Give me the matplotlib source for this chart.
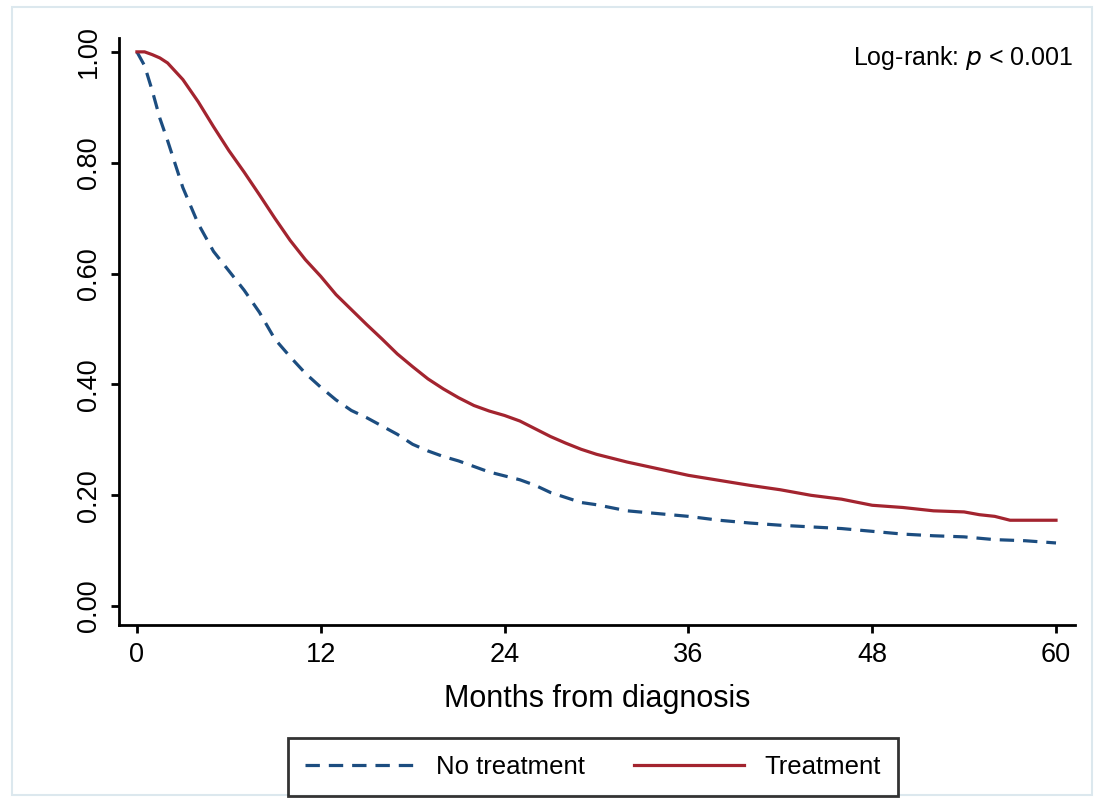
import matplotlib
matplotlib.use("Agg")
import matplotlib.pyplot as plt
from matplotlib.patches import Rectangle

plt.rcParams['font.family'] = ['Liberation Sans', 'DejaVu Sans']

# Treatment (solid red)
t_treat = [0, 0.5, 1, 1.5, 2, 3, 4, 5, 6, 7, 8, 9, 10, 11, 12, 13, 14, 15, 16, 17, 18,
           19, 20, 21, 22, 23, 24, 25, 26, 27, 28, 29, 30, 32, 34, 36, 38, 40, 42, 44,
           46, 48, 50, 52, 54, 55, 56, 57, 58, 60]
s_treat = [1.00, 1.00, 0.995, 0.989, 0.98, 0.95, 0.91, 0.865, 0.822, 0.783, 0.742, 0.70,
           0.66, 0.625, 0.595, 0.562, 0.535, 0.508, 0.482, 0.455, 0.432, 0.41, 0.392,
           0.376, 0.362, 0.352, 0.344, 0.334, 0.32, 0.306, 0.294, 0.283, 0.274, 0.26,
           0.248, 0.236, 0.227, 0.218, 0.21, 0.20, 0.193, 0.182, 0.178, 0.172, 0.17,
           0.165, 0.162, 0.155, 0.155, 0.155]

# No treatment (dashed blue)
t_none = [0, 0.5, 1, 1.5, 2, 3, 4, 5, 6, 7, 8, 9, 10, 11, 12, 13, 14, 15, 16, 17, 18,
          19, 20, 21, 22, 23, 24, 25, 26, 27, 28, 29, 30, 32, 34, 36, 38, 40, 42, 44,
          46, 48, 50, 52, 54, 56, 58, 60]
s_none = [1.00, 0.975, 0.93, 0.88, 0.84, 0.755, 0.69, 0.64, 0.605, 0.57, 0.53, 0.482,
          0.45, 0.42, 0.395, 0.372, 0.353, 0.34, 0.325, 0.31, 0.292, 0.28, 0.27, 0.262,
          0.252, 0.242, 0.235, 0.228, 0.218, 0.205, 0.196, 0.187, 0.183, 0.172, 0.167,
          0.162, 0.155, 0.15, 0.146, 0.143, 0.14, 0.135, 0.13, 0.127, 0.125, 0.12, 0.118,
          0.114]

x_ticks = [0, 12, 24, 36, 48, 60]
y_ticks = [0.0, 0.2, 0.4, 0.6, 0.8, 1.0]
y_ticklabels = ["0.00", "0.20", "0.40", "0.60", "0.80", "1.00"]

RED = "#a3242f"
BLUE = "#1c4d80"

W, H = 1099, 799
fig = plt.figure(figsize=(W / 100, H / 100), dpi=100)
fig.patch.set_facecolor("white")

# light outer frame
fig.patches.append(Rectangle((12 / W, 1 - 795 / H), (1092 - 12) / W, (795 - 7) / H,
                             transform=fig.transFigure, fill=False,
                             edgecolor="#dce8ee", lw=1.5, zorder=0))

ax = fig.add_axes([119 / W, 1 - 625 / H, (1075 - 119) / W, (625 - 38) / H])
ax.plot(t_none, s_none, color=BLUE, lw=2.3, linestyle=(0, (4.5, 2.8)),
        label="No treatment", dash_capstyle="butt")
ax.plot(t_treat, s_treat, color=RED, lw=2.3, label="Treatment")

ax.set_xlim(-1.17, 61.24)
ax.set_ylim(-0.034, 1.025)
for s in ["top", "right"]:
    ax.spines[s].set_visible(False)
for s in ["left", "bottom"]:
    ax.spines[s].set_linewidth(2.0)
    ax.spines[s].set_color("black")

ax.set_xticks(x_ticks)
ax.set_yticks(y_ticks)
ax.set_yticklabels(y_ticklabels, rotation=90, va="center")
ax.tick_params(axis="both", direction="out", length=6, width=2, labelsize=19.5,
               colors="black", pad=6)
ax.set_xlabel("Months from diagnosis", fontsize=22, labelpad=12)

ax.text(0.998, 0.99, r"Log-rank: $\it{p}$ < 0.001", transform=ax.transAxes,
        ha="right", va="top", fontsize=18)

leg = fig.legend(loc="center", bbox_to_anchor=(593 / W, 1 - 767 / H), ncol=2,
                 fontsize=18.5, frameon=True, fancybox=False, handlelength=4.3,
                 columnspacing=1.9, handletextpad=0.8, borderpad=0.65)
leg.get_frame().set_edgecolor("black")
leg.get_frame().set_linewidth(2.0)

fig.savefig("out.png", dpi=100, facecolor="white")
